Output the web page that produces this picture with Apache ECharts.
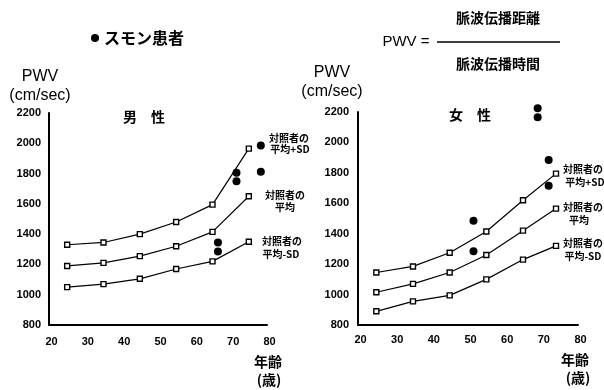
<!DOCTYPE html>
<html>
<head>
<meta charset="utf-8">
<script src="https://cdn.jsdelivr.net/npm/echarts@6/dist/echarts.min.js"></script>
<style>html,body{margin:0;padding:0;background:#fff;}#c{width:604px;height:390px;}</style>
</head>
<body>
<div id="c"></div>
<script>
// ---- data ----
const xTicks = [20, 30, 40, 50, 60, 70, 80];
const yTicks = [800, 1000, 1200, 1400, 1600, 1800, 2000, 2200];

const maleAges = [25, 35, 45, 55, 65, 75];
const malePlusSD = [1330, 1345, 1400, 1480, 1595, 1965];
const maleMean = [1190, 1210, 1255, 1320, 1415, 1650];
const maleMinusSD = [1050, 1070, 1105, 1170, 1220, 1350];
const malePatientAges = [78.3, 78.3, 71.6, 71.6, 66.5, 66.5];
const malePatientPWV = [1985, 1812, 1805, 1750, 1345, 1285];

const femaleAges = [25, 35, 45, 55, 65, 74];
const femalePlusSD = [1145, 1185, 1275, 1415, 1620, 1795];
const femaleMean = [1015, 1070, 1145, 1260, 1420, 1565];
const femaleMinusSD = [890, 955, 995, 1100, 1230, 1320];
const femalePatientAges = [51.5, 51.5, 69, 69, 72, 72];
const femalePatientPWV = [1485, 1285, 2225, 2165, 1885, 1715];

const patientName = 'スモン患者';
const jp = '"Noto Sans CJK JP", sans-serif';
const num = '"Liberation Sans", Arial, sans-serif';

function pairs(xs, ys) { return xs.map((x, i) => [x, ys[i]]); }

function lineSeries(idx, xs, ys) {
  return {
    type: 'line', xAxisIndex: idx, yAxisIndex: idx,
    data: pairs(xs, ys),
    symbol: 'rect', symbolSize: 5,
    itemStyle: { color: '#fff', borderColor: '#000', borderWidth: 1.4 },
    lineStyle: { color: '#000', width: 1.2 },
    silent: true, animation: false
  };
}
function dotSeries(idx, xs, ys) {
  return {
    type: 'scatter', name: patientName, xAxisIndex: idx, yAxisIndex: idx,
    data: pairs(xs, ys), symbol: 'circle', symbolSize: 8,
    itemStyle: { color: '#000', opacity: 1 }, clip: false, animation: false
  };
}
function xAxisOf(grid, lm) {
  return {
    type: 'value', gridIndex: grid, min: xTicks[0], max: xTicks[xTicks.length - 1], interval: 10,
    axisLine: { lineStyle: { color: '#000', width: 2 } },
    axisTick: { show: false }, splitLine: { show: false },
    axisLabel: { color: '#000', fontSize: 11, fontWeight: 'bold', fontFamily: num, margin: lm, padding: [0, 0, 0, 5],
      formatter: v => String(v) }
  };
}
function yAxisOf(grid, lm) {
  return {
    type: 'value', gridIndex: grid, min: yTicks[0], max: yTicks[yTicks.length - 1], interval: 200,
    axisLine: { show: true, lineStyle: { color: '#000', width: 2 } },
    axisTick: { show: false }, splitLine: { show: false },
    axisLabel: { color: '#000', fontSize: 11, fontWeight: 'bold', fontFamily: num, margin: lm,
      formatter: v => String(v) }
  };
}
function txt(x, y, s, size, opts) {
  return Object.assign({
    type: 'text', x: x, y: y, silent: true,
    style: Object.assign({ text: s, fontSize: size, fontWeight: 'bold', fontFamily: jp, fill: '#000', align: 'center', verticalAlign: 'middle' }, opts || {})
  });
}

const annotate = [
  // left panel
  txt(40, 77, 'PWV', 16, { fontFamily: num, fontWeight: 'normal' }),
  txt(40, 96, '(cm/sec)', 16, { fontFamily: num, fontWeight: 'normal' }),
  txt(144, 117, '男　性', 14),
  txt(289, 138, '対照者の', 10), txt(290, 149, '平均+SD', 10),
  txt(285, 195, '対照者の', 10), txt(285, 207, '平均', 10),
  txt(282, 241, '対照者の', 10), txt(281, 254, '平均-SD', 10),
  txt(268, 362, '年齢', 14), txt(269, 380, '(歳)', 14),
  // right panel
  txt(332, 73, 'PWV', 16, { fontFamily: num, fontWeight: 'normal' }),
  txt(332, 92, '(cm/sec)', 16, { fontFamily: num, fontWeight: 'normal' }),
  txt(470, 115, '女　性', 14),
  txt(583, 169, '対照者の', 10), txt(585, 182, '平均+SD', 10),
  txt(583, 207, '対照者の', 10), txt(579, 220, '平均', 10),
  txt(583, 243, '対照者の', 10), txt(583, 256, '平均-SD', 10),
  txt(575, 360, '年齢', 14), txt(578, 378, '(歳)', 14),
  // formula
  txt(406, 42, 'PWV =', 15, { fontFamily: num, fontWeight: 'normal' }),
  { type: 'line', silent: true, shape: { x1: 437, y1: 42, x2: 560, y2: 42 }, style: { stroke: '#000', lineWidth: 1.5 } },
  txt(498, 18, '脈波伝播距離', 14),
  txt(498, 64, '脈波伝播時間', 14)
];

const chart = echarts.init(document.getElementById('c'), null, { renderer: 'canvas' });
chart.setOption({
  backgroundColor: '#fff',
  animation: false,
  legend: {
    data: [{ name: patientName, icon: 'circle', itemStyle: { color: '#000', opacity: 1 } }],
    left: 91, top: 30, padding: 0, itemWidth: 8, itemHeight: 8, itemGap: 5,
    textStyle: { color: '#000', fontSize: 16, fontWeight: 'bold', fontFamily: jp },
    selectedMode: false
  },
  grid: [
    { left: 49, top: 113, width: 218, height: 212 },
    { left: 358, top: 112, width: 220, height: 213 }
  ],
  xAxis: [xAxisOf(0, 11), xAxisOf(1, 9)],
  yAxis: [yAxisOf(0, 8), yAxisOf(1, 9)],
  series: [
    lineSeries(0, maleAges, malePlusSD),
    lineSeries(0, maleAges, maleMean),
    lineSeries(0, maleAges, maleMinusSD),
    dotSeries(0, malePatientAges, malePatientPWV),
    lineSeries(1, femaleAges, femalePlusSD),
    lineSeries(1, femaleAges, femaleMean),
    lineSeries(1, femaleAges, femaleMinusSD),
    dotSeries(1, femalePatientAges, femalePatientPWV)
  ],
  graphic: annotate
});
</script>
</body>
</html>
